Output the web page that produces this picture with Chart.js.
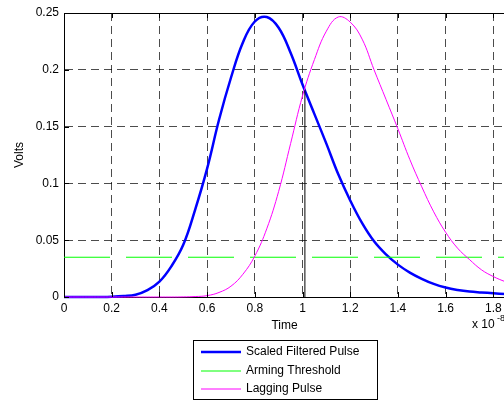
<!DOCTYPE html>
<html>
<head>
<meta charset="utf-8">
<script src="https://cdn.jsdelivr.net/npm/chart.js@4/dist/chart.umd.min.js"></script>
<style>
  html, body { margin: 0; padding: 0; background: #fff; overflow: hidden; }
  #wrap { position: relative; width: 520px; height: 402px; }
</style>
</head>
<body>
<div id="wrap"><canvas id="pulseChart" width="520" height="402"></canvas></div>
<script>
// time in units of 1e-8 s
var timeValues = [0, 0.05, 0.1, 0.15, 0.2, 0.25, 0.3, 0.35, 0.4, 0.45,
    0.5, 0.55, 0.6, 0.65, 0.7, 0.75, 0.8, 0.85, 0.9, 0.95,
    1.0, 1.05, 1.1, 1.15, 1.2, 1.25, 1.3, 1.35, 1.4, 1.45,
    1.5, 1.55, 1.6, 1.65, 1.7, 1.75, 1.8, 1.85, 1.9, 1.95, 2.0];

var scaledPulse = [0, 0, 0, 0, 0.0002, 0.0008, 0.002, 0.006, 0.0135, 0.027,
    0.046, 0.077, 0.113, 0.156, 0.193, 0.224, 0.2425, 0.2465, 0.237, 0.215,
    0.187, 0.161, 0.135, 0.108, 0.085, 0.065, 0.049, 0.0375, 0.0285, 0.0215,
    0.016, 0.0115, 0.0083, 0.0062, 0.0048, 0.004, 0.0033, 0.0026, 0.002, 0.0015, 0.001];

var laggingPulse = [0, 0, 0, 0, 0, 0, 0, 0, 0, 0,
    0.0001, 0.0004, 0.0012, 0.004, 0.0095, 0.02, 0.036, 0.06, 0.093, 0.135,
    0.177, 0.209, 0.234, 0.2465, 0.242, 0.227, 0.2, 0.174, 0.148, 0.121,
    0.097, 0.075, 0.057, 0.043, 0.033, 0.024, 0.018, 0.0135, 0.0098, 0.0072, 0.0052];

var armingLevel = 0.035;
var armingSpan = [0, 2];

// where the two pulses cross
var crossTime = 1.01;
var crossVolts = 0.182;

var xTicks = [0, 0.2, 0.4, 0.6, 0.8, 1, 1.2, 1.4, 1.6, 1.8];
var yTicks = [0, 0.05, 0.1, 0.15, 0.2, 0.25];

var seriesNames = ['Scaled Filtered Pulse', 'Arming Threshold', 'Lagging Pulse'];
var seriesColors = ['#0000ff', '#00ff00', '#ff00ff'];

var FONT = '"Liberation Sans", Arial, sans-serif';

function toPoints(xs, ys) {
    return xs.map(function (x, i) { return { x: x, y: ys[i] }; });
}

// axes box, inner ticks, labels and legend drawn on top of the chart
var decorations = {
    id: 'decorations',
    afterDraw: function (chart) {
        var c = chart.ctx, a = chart.chartArea;
        var xs = chart.scales.x, ys = chart.scales.y;
        c.save();
        c.strokeStyle = '#000';
        c.lineWidth = 1;
        c.beginPath();
        c.moveTo(a.left, a.top + 0.5);
        c.lineTo(a.right, a.top + 0.5);
        xTicks.forEach(function (v) {
            var px = Math.round(xs.getPixelForValue(v)) + 0.5;
            c.moveTo(px, a.bottom); c.lineTo(px, a.bottom - 5);
            c.moveTo(px, a.top); c.lineTo(px, a.top + 5);
        });
        yTicks.forEach(function (v) {
            var py = Math.round(ys.getPixelForValue(v)) + 0.5;
            c.moveTo(a.left, py); c.lineTo(a.left + 5, py);
        });
        c.stroke();

        c.fillStyle = '#000';
        c.font = '12px ' + FONT;
        c.textAlign = 'center';
        c.textBaseline = 'middle';
        c.fillText('Time', (a.left + a.right) / 2, 326);

        c.save();
        c.translate(20, (a.top + a.bottom) / 2);
        c.rotate(-Math.PI / 2);
        c.fillText('Volts', 0, 0);
        c.restore();

        c.textAlign = 'left';
        c.fillText('x 10', 472, 325);
        c.font = '9px ' + FONT;
        c.fillText('-8', 497, 319);

        // legend
        c.fillStyle = '#fff';
        c.fillRect(193, 340, 184, 60);
        c.strokeStyle = '#000';
        c.strokeRect(193.5, 340.5, 184, 59);
        c.font = '12px ' + FONT;
        c.fillStyle = '#000';
        var rows = [352, 371, 389];
        seriesNames.forEach(function (name, i) {
            c.strokeStyle = seriesColors[i];
            c.lineWidth = i === 0 ? 2.5 : 1;
            c.beginPath();
            c.moveTo(201, rows[i]);
            c.lineTo(241, rows[i]);
            c.stroke();
            c.fillText(name, 246, rows[i]);
        });
        c.restore();
    }
};

var ctx = document.getElementById('pulseChart').getContext('2d');
var pulseChart = new Chart(ctx, {
    type: 'line',
    data: {
        datasets: [{
            label: 'crossing',
            data: [{ x: crossTime, y: 0 }, { x: crossTime, y: crossVolts }],
            borderColor: '#000',
            borderWidth: 1,
            pointRadius: 0,
            order: 0
        }, {
            label: seriesNames[2],
            data: toPoints(timeValues, laggingPulse),
            borderColor: seriesColors[2],
            borderWidth: 1,
            pointRadius: 0,
            tension: 0.4,
            clip: 3,
            order: 1
        }, {
            label: seriesNames[1],
            data: armingSpan.map(function (x) { return { x: x, y: armingLevel }; }),
            borderColor: seriesColors[1],
            borderWidth: 1,
            borderDash: [46, 16],
            pointRadius: 0,
            order: 2
        }, {
            label: seriesNames[0],
            data: toPoints(timeValues, scaledPulse),
            borderColor: seriesColors[0],
            borderWidth: 2.5,
            pointRadius: 0,
            tension: 0.4,
            clip: 3,
            order: 3
        }]
    },
    options: {
        responsive: false,
        animation: false,
        layout: { padding: { left: 0, top: 13, right: 15, bottom: 0 } },
        plugins: {
            legend: { display: false },
            tooltip: { enabled: false }
        },
        scales: {
            x: {
                type: 'linear',
                min: 0,
                max: 1.849,
                afterBuildTicks: function (s) { s.ticks = xTicks.map(function (v) { return { value: v }; }); },
                afterFit: function (s) { s.height = 105; },
                ticks: {
                    color: '#000',
                    font: { family: FONT, size: 12 },
                    padding: 4,
                    maxRotation: 0,
                    autoSkip: false,
                    callback: function (v) { return String(v); }
                },
                grid: { color: 'rgba(0,0,0,0.7)', lineWidth: 1, drawTicks: false },
                border: { display: true, color: '#000', width: 1, dash: [8, 5] }
            },
            y: {
                min: 0,
                max: 0.25,
                afterBuildTicks: function (s) { s.ticks = yTicks.map(function (v) { return { value: v }; }); },
                afterFit: function (s) { s.width = 64; },
                ticks: {
                    color: '#000',
                    font: { family: FONT, size: 12 },
                    padding: 5,
                    callback: function (v) { return String(v); }
                },
                grid: { color: 'rgba(0,0,0,0.7)', lineWidth: 1, drawTicks: false },
                border: { display: true, color: '#000', width: 1, dash: [8, 5] }
            }
        }
    },
    plugins: [decorations]
});
</script>
</body>
</html>
